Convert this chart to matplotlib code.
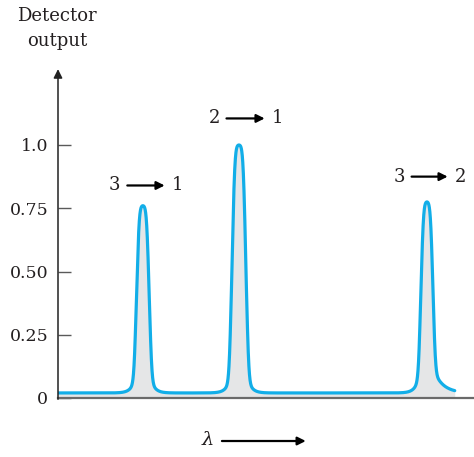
import numpy as np
import matplotlib
matplotlib.use("Agg")
import matplotlib.pyplot as plt

# ---- data (arbitrary wavelength units 0..10, detector output 0..1.3) ----
peak_labels = [("3", "1"), ("2", "1"), ("3", "2")]
peak_centers = [2.045, 4.36, 8.89]        # line positions
peak_heights = [0.76, 1.00, 0.775]        # peak detector output
base_halfwidth = [0.18, 0.205, 0.165]     # half-width at the foot of the line
top_halfwidth = [0.12, 0.125, 0.12]       # half-width of the rounded tip
foot_height_left = [0.06, 0.06, 0.08]
foot_height_right = [0.06, 0.06, 0.09]
foot_len_left = [0.10, 0.10, 0.10]
foot_len_right = [0.10, 0.10, 0.22]
baseline = 0.02
x_start, x_end = 0.0, 9.56
ytick_vals = [0, 0.25, 0.50, 0.75, 1.0]
ytick_labels = ["0", "0.25", "0.50", "0.75", "1.0"]

FONT = "DejaVu Serif"
TXT = "#231f20"
LINE = "#12aee8"
FILL = "#e5e6e7"
AX = "#5a5a5a"

# ---- build the spectrum from the line parameters ----
dx = 0.002
x = np.arange(x_start, x_end + dx / 2, dx)
y = np.full_like(x, baseline)
sig = 0.045
k = np.arange(-4 * sig, 4 * sig + dx / 2, dx)
kern = np.exp(-0.5 * (k / sig) ** 2)
kern /= kern.sum()
for i, c in enumerate(peak_centers):
    d = x - c
    ad = np.abs(d)
    b, t = base_halfwidth[i], top_halfwidth[i]
    core = np.clip((b - ad) / (b - t), 0, 1)
    core = np.convolve(core, kern, mode="same")
    core /= core.max()
    left = d < 0
    A = np.where(left, foot_height_left[i], foot_height_right[i])
    L = np.where(left, foot_len_left[i], foot_len_right[i])
    foot = A * np.exp(-np.clip(ad - b, 0, None) / L)
    y += foot + (peak_heights[i] - baseline - A) * core

fig = plt.figure(figsize=(4.74, 4.57), dpi=100)
ax = fig.add_axes([58 / 474, 59 / 457, 415 / 474, 1.3 * 253 / 457])
ax.set_xlim(0, 10)
ax.set_ylim(0, 1.3)

ax.fill_between(x, 0, y, color=FILL, zorder=1, lw=0)
ax.plot(x, y, color=LINE, lw=2.3, solid_capstyle="round", solid_joinstyle="round", zorder=3)

for s in ["top", "right", "left"]:
    ax.spines[s].set_visible(False)
ax.spines["bottom"].set_color("#6a6a6a")
ax.spines["bottom"].set_linewidth(1.6)
ax.spines["bottom"].set_zorder(2)

# y axis with arrow
ax.annotate("", xy=(0, 1.3), xytext=(0, -0.005), xycoords="data",
            arrowprops=dict(arrowstyle="-|>", color=AX, lw=1.1,
                            mutation_scale=13, shrinkA=0, shrinkB=0,
                            fc="#222222", ec="#222222"),
            annotation_clip=False)

ax.set_xticks([])
ax.set_yticks(ytick_vals)
ax.set_yticklabels(ytick_labels, fontfamily=FONT, fontsize=12.5, color=TXT)
ax.tick_params(axis="y", direction="in", length=9, width=1.0, color=AX, pad=7)

# transition labels
label_pos = [(1.37, 2.87, 0.84), (3.76, 5.28, 1.105), (8.22, 9.69, 0.875)]
for (a, b), (xa, xb, yl) in zip(peak_labels, label_pos):
    ax.text(xa, yl, a, ha="center", va="center", fontfamily=FONT, fontsize=13, color=TXT)
    ax.text(xb, yl, b, ha="center", va="center", fontfamily=FONT, fontsize=13, color=TXT,
            clip_on=False)
    ax.annotate("", xy=(xb - 0.3, yl), xytext=(xa + 0.3, yl),
                arrowprops=dict(arrowstyle="-|>", color="black", lw=1.6,
                                mutation_scale=12, shrinkA=0, shrinkB=0),
                annotation_clip=False)

# axis titles
ax.text(-0.02, 1.46, "Detector\noutput", ha="center", va="center", fontfamily=FONT,
        fontsize=13, color=TXT, linespacing=1.5, clip_on=False)
ax.text(3.6, -0.165, "λ", ha="center", va="center", fontfamily=FONT, style="italic",
        fontsize=14, color=TXT, clip_on=False)
ax.annotate("", xy=(5.97, -0.17), xytext=(3.95, -0.17),
            arrowprops=dict(arrowstyle="-|>", color="black", lw=1.6,
                            mutation_scale=12, shrinkA=0, shrinkB=0),
            annotation_clip=False)

fig.savefig("out.png", dpi=100)
